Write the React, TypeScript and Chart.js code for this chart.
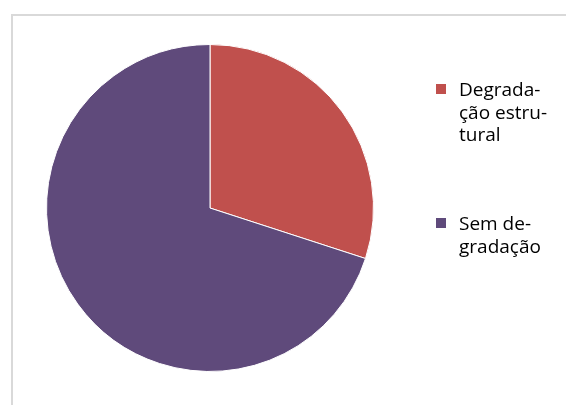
import React, { useEffect, useRef } from "react";
import { Chart, registerables } from "chart.js";

Chart.register(...registerables);

const categories = ["Degradação estrutural", "Sem degradação"];
const values = [30, 70];
const colors = ["#C0504D", "#5F4A7B"];
const legendLines = [
  ["Degrada-", "ção estru-", "tural"],
  ["Sem de-", "gradação"],
];

const frameAndLegend = {
  id: "frameAndLegend",
  afterDraw(chart: any) {
    const ctx = chart.ctx as CanvasRenderingContext2D;
    ctx.save();
    ctx.strokeStyle = "#D9D9D9";
    ctx.lineWidth = 2;
    ctx.strokeRect(12, 15, 700, 600);

    ctx.font = "19px 'Open Sans'";
    ctx.textBaseline = "alphabetic";
    const tops = [96, 230];
    const lineH = 22.5;
    legendLines.forEach((lines, i) => {
      ctx.fillStyle = colors[i];
      ctx.fillRect(436, tops[i] - 12, 10, 10);
      ctx.fillStyle = "#000000";
      lines.forEach((t, j) => {
        ctx.fillText(t, 459, tops[i] + j * lineH);
      });
    });
    ctx.restore();
  },
};

export default function App() {
  const ref = useRef<HTMLCanvasElement | null>(null);
  useEffect(() => {
    if (!ref.current) return;
    const chart = new Chart(ref.current, {
      type: "pie",
      data: {
        labels: categories,
        datasets: [
          {
            data: values,
            backgroundColor: colors,
            borderColor: "#FFFFFF",
            borderWidth: 1,
          },
        ],
      },
      options: {
        responsive: false,
        animation: false,
        layout: { padding: { top: 44, bottom: 33, left: 45, right: 191 } },
        plugins: {
          legend: { display: false },
          tooltip: { enabled: false },
        },
      },
      plugins: [frameAndLegend],
    });
    return () => chart.destroy();
  }, []);
  return (
    <div style={{ position: "fixed", left: 0, top: 0, width: 566, height: 405, background: "#fff" }}>
      <canvas ref={ref} width={566} height={405} style={{ width: 566, height: 405 }} />
    </div>
  );
}
